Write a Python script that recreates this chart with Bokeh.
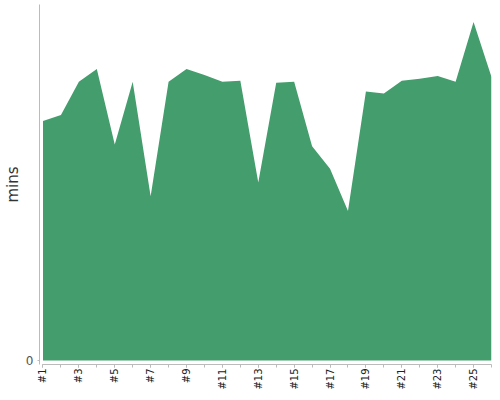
import math
from bokeh.plotting import figure
from bokeh.models import Range1d, FixedTicker
from bokeh.embed import file_html
from bokeh.resources import INLINE

# data
runs = [f"#{i}" for i in range(1, 27)]
run_index = list(range(1, 27))
minutes = [245, 251, 285, 298, 221, 285, 168, 285, 298, 292, 285, 286, 182,
           284, 285, 219, 196, 153, 275, 273, 286, 288, 291, 285, 346, 290]
y_ticks = [0]

p = figure(width=492, height=392, output_backend="svg", toolbar_location=None,
           x_range=Range1d(0.805, 26), y_range=Range1d(-4, 364),
           min_border_left=30, min_border_right=1, min_border_top=4, min_border_bottom=24)

p.varea(x=run_index, y1=0, y2=minutes, fill_color="#449d6c", fill_alpha=1.0)

p.outline_line_color = None
p.xgrid.visible = False
p.ygrid.visible = False

xa = p.xaxis[0]
xa.ticker = FixedTicker(ticks=run_index[::2], minor_ticks=run_index)
xa.major_label_overrides = {i: lab for i, lab in zip(run_index, runs)}
xa.major_label_orientation = math.pi / 2
xa.bounds = (1, 26)
xa.axis_line_color = "#bbbbbb"
xa.major_tick_line_color = "#bbbbbb"
xa.minor_tick_line_color = "#bbbbbb"
xa.major_tick_in = 0
xa.major_tick_out = 3
xa.minor_tick_in = 0
xa.minor_tick_out = 3
xa.major_label_standoff = 1
xa.major_label_text_font = "DejaVu Sans"
xa.major_label_text_font_size = "10px"
xa.major_label_text_color = "#222222"

ya = p.yaxis[0]
ya.ticker = FixedTicker(ticks=y_ticks, minor_ticks=[])
ya.axis_label = "mins"
ya.axis_label_text_font = "DejaVu Sans"
ya.axis_label_text_font_size = "15px"
ya.axis_label_text_font_style = "normal"
ya.axis_label_text_color = "#333333"
ya.axis_label_standoff = 1
ya.axis_line_color = "#bbbbbb"
ya.major_tick_line_color = "#bbbbbb"
ya.major_tick_in = 0
ya.major_tick_out = 2
ya.major_label_standoff = 4
ya.major_label_text_font = "DejaVu Sans"
ya.major_label_text_font_size = "12px"
ya.major_label_text_color = "#555555"

open("out.html", "w").write(file_html(p, INLINE))
